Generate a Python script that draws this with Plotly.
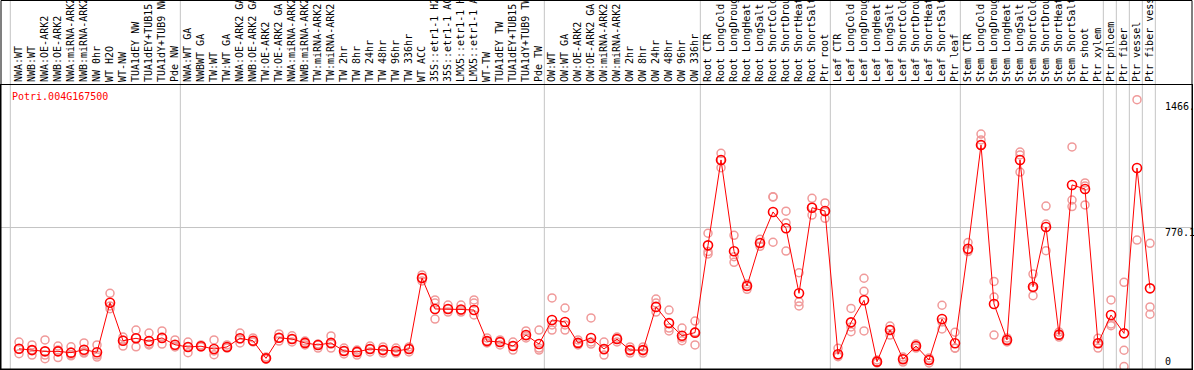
import plotly.graph_objects as go

gene_id = "Potri.004G167500"

categories = [
    "NWA:WT", "NWB:WT", "NWA:OE-ARK2", "NWB:OE-ARK2", "NWA:miRNA-ARK2", "NWB:miRNA-ARK2",
    "NW 0hr", "WT H2O", "WT-NW", "TUA1dEY NW", "TUA1dEY+TUB15 NW", "TUA1dY+TUB9 NW", "Pde NW",
    "NWA:WT GA", "NWBWT GA", "TW:WT", "TW:WT GA", "NWA:OE-ARK2 GA", "NWB:OE-ARK2 GA",
    "TW:OE-ARK2", "TW:OE-ARK2 GA", "NWA:miRNA-ARK2", "NWB:miRNA-ARK2", "TW:miRNA-ARK2",
    "TW:miRNA-ARK2", "TW 2hr", "TW 8hr", "TW 24hr", "TW 48hr", "TW 96hr", "TW 336hr",
    "WT ACC", "35S::etr1-1 H2O", "35S::etr1-1 ACC", "LMX5::etr1-1 H2O", "LMX5::etr1-1 ACC",
    "WT-TW", "TUA1dEY TW", "TUA1dEY+TUB15 TW", "TUA1dY+TUB9 TW", "Pde TW",
    "OW:WT", "OW:WT GA", "OW:OE-ARK2", "OW:OE-ARK2 GA", "OW:miRNA-ARK2", "OW:miRNA-ARK2",
    "OW 2hr", "OW 8hr", "OW 24hr", "OW 48hr", "OW 96hr", "OW 336hr",
    "Root CTR", "Root LongCold", "Root LongDrought", "Root LongHeat", "Root LongSalt",
    "Root ShortCold", "Root ShortDrought", "Root ShortHeat", "Root ShortSalt", "Ptr root",
    "Leaf CTR", "Leaf LongCold", "Leaf LongDrought", "Leaf LongHeat", "Leaf LongSalt",
    "Leaf ShortCold", "Leaf ShortDrought", "Leaf ShortHeat", "Leaf ShortSalt", "Ptr leaf",
    "Stem CTR", "Stem LongCold", "Stem LongDrought", "Stem LongHeat", "Stem LongSalt",
    "Stem ShortCold", "Stem ShortDrought", "Stem ShortHeat", "Stem ShortSalt",
    "Ptr shoot", "Ptr xylem", "Ptr phloem", "Ptr fiber", "Ptr vessel", "Ptr fiber vessel",
]

mean_values = [
    110, 103, 96, 96, 89, 105, 91, 361, 154, 167, 152, 169, 132,
    120, 124, 109, 120, 167, 154, 58, 170, 163, 142, 131, 142, 98, 93, 109, 103, 98, 109,
    495, 327, 327, 324, 321, 152, 147, 125, 185, 136,
    267, 256, 142, 169, 109, 163, 103, 103, 338, 250, 181, 198,
    673, 1138, 641, 452, 686, 855, 766, 412, 878, 860,
    80, 254, 374, 40, 212, 53, 125, 49, 272, 140,
    655, 1219, 354, 158, 1138, 448, 773, 187, 1002, 980,
    140, 294, 194, 1094, 439,
]

rep1 = [
    147, 131, 158, 125, 121, 142, 131, 412, 174, 212, 196, 207, 158,
    147, 131, 158, 131, 196, 169, 65, 191, 181, 152, 136, 180, 114, 103, 125, 120, 114, 120,
    512, 376, 348, 348, 376, 169, 158, 147, 207, 212,
    387, 332, 158, 278, 147, 174, 120, 120, 381, 321, 223, 261,
    739, 1174, 728, 434, 706, 938, 859, 524, 929, 904,
    113, 330, 494, 49, 234, 65, 136, 60, 347, 200,
    688, 1279, 477, 169, 1181, 517, 887, 201, 1209, 1013,
    167, 376, 472, 1466, 684,
]

rep2 = [
    83, 76, 56, 62, 72, 87, 65, 328, 125, 121, 131, 136, 120,
    89, 120, 78, 114, 142, 147, 54, 152, 147, 131, 114, 114, 82, 76, 93, 87, 87, 93,
    479, 359, 310, 310, 359, 142, 131, 103, 169, 103,
    212, 212, 131, 147, 76, 147, 87, 87, 359, 207, 154, 131,
    639, 1096, 581, 463, 668, 690, 795, 366, 838, 820,
    67, 203, 423, 33, 185, 38, 114, 33, 218, 113,
    639, 1247, 392, 147, 1165, 399, 789, 174, 920, 996,
    114, 245, 102, 702, 338,
]

rep3 = [
    109, 103, 76, 103, 76, 93, 76, 343, 158, 169, 136, 174, 125,
    120, 125, 98, 120, 163, 152, 60, 169, 163, 142, 131, 136, 98, 93, 109, 103, 98, 109,
    495, 272, 327, 321, 294, 152, 147, 125, 180, 114,
    240, 240, 142, 136, 103, 163, 103, 103, 310, 223, 169, 201,
    626, 1138, 611, 452, 686, 936, 642, 343, 882, 855,
    76, 229, 207, 38, 212, 54, 125, 49, 256, 114,
    648, 1219, 185, 158, 1072, 441, 644, 185, 884, 893,
    142, 236, 13, None, 298,
]

group_last_index = [12, 40, 52, 62, 72, 83, 84, 85, 86, 87]

y_tick_values = [0, 770.1, 1466]
y_tick_labels = ["0", "770.1", "1466."]

MONO = "DejaVu Sans Mono, Liberation Mono, monospace"
x_idx = list(range(len(categories)))

fig = go.Figure()

rep_x, rep_y = [], []
for reps in (rep1, rep2, rep3):
    for i, v in enumerate(reps):
        if v is not None:
            rep_x.append(i)
            rep_y.append(v)

fig.add_trace(go.Scatter(
    x=rep_x, y=rep_y, mode="markers",
    marker=dict(symbol="circle", size=8, color="rgba(0,0,0,0)",
                line=dict(width=1.5, color="#f09a9a")),
    hoverinfo="skip", showlegend=False,
))

fig.add_trace(go.Scatter(
    x=x_idx, y=mean_values, mode="lines+markers",
    line=dict(color="#ff0000", width=1),
    marker=dict(symbol="circle", size=9, color="rgba(0,0,0,0)",
                line=dict(width=1.6, color="#ff0000")),
    showlegend=False,
))

shapes = []
sep_positions = [-0.67] + [g + 0.41 for g in group_last_index]
for s in sep_positions:
    shapes.append(dict(type="line", xref="x", yref="paper", x0=s, x1=s, y0=0, y1=1.31,
                       line=dict(color="#c4c4c4", width=1), layer="below"))
shapes.append(dict(type="line", xref="paper", yref="y", x0=0, x1=1,
                   y0=y_tick_values[1], y1=y_tick_values[1],
                   line=dict(color="#c4c4c4", width=1), layer="below"))
# outer frame around label area
shapes.append(dict(type="rect", xref="paper", yref="paper", x0=0, x1=1, y0=0, y1=1.2975,
                   line=dict(color="black", width=1), fillcolor="rgba(0,0,0,0)"))

annotations = [
    dict(text=gene_id, xref="paper", yref="paper", x=0.0076, y=0.958, xanchor="left", yanchor="middle",
         showarrow=False, font=dict(family=MONO, size=10, color="#ff0000")),
]
shifts = {0: 0, 1: -5, 2: -7}
for k, (v, t) in enumerate(zip(y_tick_values, y_tick_labels)):
    annotations.append(dict(text=t, xref="paper", yref="y", x=0.9757, y=v, xanchor="left",
                            yanchor="bottom" if k == 0 else "middle", yshift=shifts[k],
                            showarrow=False, font=dict(family=MONO, size=10, color="black")))

fig.update_layout(
    template="none",
    width=1194, height=370,
    margin=dict(l=1, r=2, t=85, b=1, pad=0, autoexpand=False),
    paper_bgcolor="white", plot_bgcolor="white",
    shapes=shapes, annotations=annotations,
    xaxis=dict(range=[-1.385, 90.23], side="top", tickmode="array", tickvals=x_idx, ticktext=categories,
               tickangle=-90, tickfont=dict(family=MONO, size=10, color="black"), ticks="",
               automargin=False,
               showgrid=False, zeroline=False, showline=True, linecolor="black", linewidth=1, mirror=True),
    yaxis=dict(range=[0, 1546], showticklabels=False, showgrid=False, zeroline=False, automargin=False,
               showline=True, linecolor="black", linewidth=1, mirror=True),
)

fig.write_html("out.html", config={"displayModeBar": False},
               post_script="document.body.style.margin='0px';document.body.style.overflow='hidden';")
